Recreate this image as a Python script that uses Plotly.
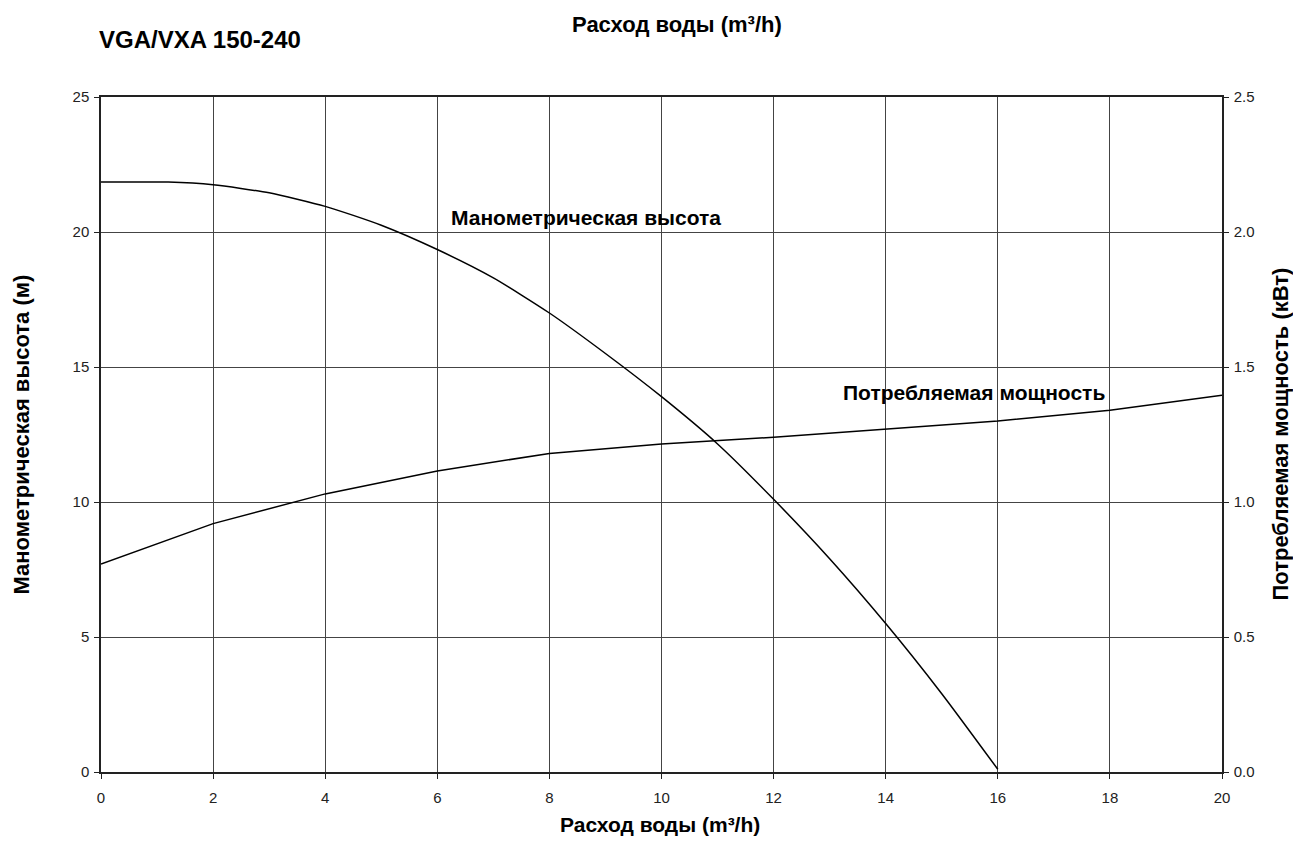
import plotly.graph_objects as go

flow_head = [0, 1, 1.2, 2, 3, 4, 5, 6, 7, 8, 9, 10, 11, 12, 13, 14, 15, 16]
head = [21.85, 21.85, 21.85, 21.75, 21.45, 20.95, 20.25, 19.35, 18.3, 17.0, 15.5, 13.9, 12.15, 10.1, 7.9, 5.5, 2.9, 0.1]

flow_power = [0, 2, 4, 6, 8, 10, 12, 14, 16, 18, 20]
power = [0.77, 0.92, 1.03, 1.115, 1.18, 1.215, 1.24, 1.27, 1.30, 1.34, 1.395]

x_ticks = [0, 2, 4, 6, 8, 10, 12, 14, 16, 18, 20]
y_ticks = [0, 5, 10, 15, 20, 25]
y2_ticks = [0.0, 0.5, 1.0, 1.5, 2.0, 2.5]
y2_labels = ["0.0", "0.5", "1.0", "1.5", "2.0", "2.5"]

title_text = "VGA/VXA 150-240"
x_title = "Расход воды (m³/h)"
y_title = "Манометрическая высота (м)"
y2_title = "Потребляемая мощность (кВт)"
head_label = "Манометрическая высота"
power_label = "Потребляемая мощность"

FONT = "Liberation Sans, Arial, sans-serif"
# the page body has an 8px default margin; size the figure to fit inside the window
OFF = 8
W, H = 1301 - 2 * OFF, 854 - 2 * OFF
PL, PR, PT, PB = 101, 1222, 97, 772   # plot area in page pixels
ML, MR, MT, MB = PL - OFF, W - (PR - OFF), PT - OFF, H - (PB - OFF)

fig = go.Figure()
fig.add_trace(go.Scatter(x=flow_head, y=head, mode="lines",
                         line=dict(color="black", width=1.5, shape="spline", smoothing=0.6),
                         showlegend=False, hoverinfo="skip"))
fig.add_trace(go.Scatter(x=flow_power, y=power, mode="lines", yaxis="y2",
                         line=dict(color="black", width=1.5),
                         showlegend=False, hoverinfo="skip"))

axis_common = dict(showline=True, linecolor="#222", linewidth=1.5,
                   ticks="outside", ticklen=5, tickcolor="#222", tickwidth=1,
                   tickfont=dict(family=FONT, size=15, color="#222"),
                   zeroline=False, automargin=False)

fig.update_layout(
    width=W, height=H,
    paper_bgcolor="white", plot_bgcolor="white",
    margin=dict(l=ML, r=MR, t=MT, b=MB, autoexpand=False),
    font=dict(family=FONT, color="black"),
    xaxis=dict(range=[0, 20], tickvals=x_ticks, showgrid=True, gridcolor="#444", gridwidth=1,
               mirror=True, ticklabelstandoff=6, **axis_common),
    yaxis=dict(range=[0, 25], tickvals=y_ticks, showgrid=True, gridcolor="#444", gridwidth=1,
               ticklabelstandoff=2, **axis_common),
    yaxis2=dict(range=[0, 2.5], tickvals=y2_ticks, ticktext=y2_labels, overlaying="y", side="right",
                showgrid=False, ticklabelstandoff=2, **axis_common),
)

def paper_x(px):
    return (px - PL) / (PR - PL)

def paper_y(py):
    return (PB - py) / (PB - PT)

ann_font = dict(family=FONT, size=22, color="black")
# chart title
fig.add_annotation(x=paper_x(97), y=paper_y(40), xref="paper", yref="paper", xanchor="left", yanchor="middle",
                   text="<b>" + title_text + "</b>", showarrow=False,
                   font=dict(family=FONT, size=24, color="black"))
# top axis title
fig.add_annotation(x=paper_x(677), y=paper_y(24), xref="paper", yref="paper", xanchor="center", yanchor="middle",
                   text="<b>" + x_title + "</b>", showarrow=False, font=ann_font)
# bottom axis title
fig.add_annotation(x=paper_x(660), y=paper_y(824), xref="paper", yref="paper", xanchor="center", yanchor="middle",
                   text="<b>" + x_title + "</b>", showarrow=False,
                   font=dict(family=FONT, size=21, color="black"))
# left axis title
fig.add_annotation(x=paper_x(21), y=0.5, xref="paper", yref="paper", xanchor="center", yanchor="middle",
                   textangle=-90, text="<b>" + y_title + "</b>", showarrow=False, font=ann_font)
# right axis title
fig.add_annotation(x=paper_x(1280), y=0.5, xref="paper", yref="paper", xanchor="center", yanchor="middle",
                   textangle=-90, text="<b>" + y2_title + "</b>", showarrow=False, font=ann_font)

fig.add_annotation(x=6.2, y=20.55, xref="x", yref="y", xanchor="left", yanchor="middle",
                   text="<b>" + head_label + "</b>", showarrow=False,
                   font=dict(family=FONT, size=21, color="black"))
fig.add_annotation(x=13.2, y=14.07, xref="x", yref="y", xanchor="left", yanchor="middle",
                   text="<b>" + power_label + "</b>", showarrow=False,
                   font=dict(family=FONT, size=21, color="black"))

fig.write_html("out.html")
